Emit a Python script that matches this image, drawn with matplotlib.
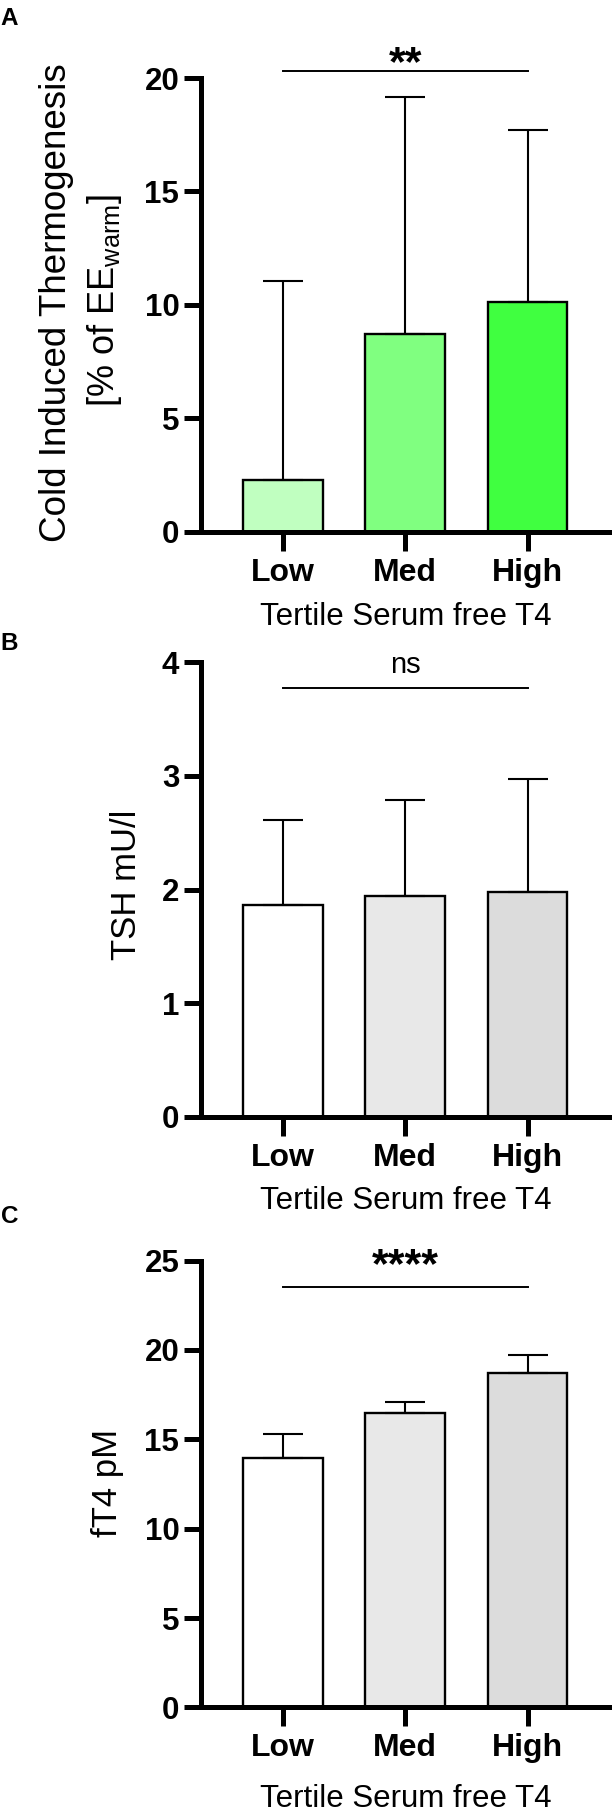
import matplotlib
matplotlib.use('Agg')
import matplotlib.pyplot as plt
import numpy as np

plt.rcParams['font.family'] = 'Liberation Sans'
plt.rcParams['mathtext.fontset'] = 'custom'
plt.rcParams['mathtext.rm'] = 'Liberation Sans'

# Данные
groups = ['Low', 'Med', 'High']

cit_mean = [2.27, 8.73, 10.14]
cit_sd = [8.78, 10.44, 7.57]

tsh_mean = [1.865, 1.94, 1.975]
tsh_sd = [0.75, 0.85, 1.0]

ft4_mean = [13.93, 16.48, 18.73]
ft4_sd = [1.35, 0.59, 0.96]

green_colors = ['#c0ffc0', '#80ff80', '#40ff40']
grey_colors = ['#ffffff', '#e8e8e8', '#dcdcdc']

W, H = 612, 1809


def draw_panel(ax, means, sds, colors, ymax, ystep, sig_y, sig_text, text_y, text_kw):
    x = np.arange(len(groups))
    ax.bar(x, means, width=0.65, color=colors, edgecolor='black', linewidth=1.7, zorder=2)
    ax.errorbar(x, means, yerr=[np.zeros(len(sds)), sds], fmt='none', ecolor='black',
                elinewidth=1.5, capsize=14.4, capthick=1.5, zorder=3)

    ax.set_xlim(-0.668, 2.69)
    ax.set_ylim(0, ymax)
    ax.set_yticks(np.arange(0, ymax + 0.01, ystep))
    ax.set_xticks(x)
    ax.set_xticklabels(groups, fontsize=23, fontweight='bold')
    for lab in ax.get_yticklabels():
        lab.set_fontsize(22.5)
        lab.set_fontweight('bold')

    ax.spines['top'].set_visible(False)
    ax.spines['right'].set_visible(False)
    ax.spines['left'].set_linewidth(3.6)
    ax.spines['bottom'].set_linewidth(3.6)
    ax.tick_params(axis='y', length=12.6, width=3.6, pad=3)
    ax.tick_params(axis='x', length=13.7, width=3.6, pad=5)

    # линия значимости
    ax.plot([0, 2], [sig_y, sig_y], color='black', linewidth=1.4, clip_on=False)
    ax.text(1, text_y, sig_text, ha='center', va='baseline', clip_on=False, **text_kw)


fig = plt.figure(figsize=(W / 100, H / 100), dpi=100)

left = 201 / W
width = 1 - left
axA = fig.add_axes([left, 1 - 531.6 / H, width, (531.6 - 78.1) / H])
axB = fig.add_axes([left, 1 - 1117 / H, width, (1117 - 662.2) / H])
axC = fig.add_axes([left, 1 - 1707.4 / H, width, (1707.4 - 1260.5) / H])

draw_panel(axA, cit_mean, cit_sd, green_colors, 20, 5, 20.31, '**', 20.15,
           dict(fontsize=31, fontweight='bold'))
draw_panel(axB, tsh_mean, tsh_sd, grey_colors, 4, 1, 3.77, 'ns', 3.905,
           dict(fontsize=21))
draw_panel(axC, ft4_mean, ft4_sd, grey_colors, 25, 5, 23.53, '****', 24.05,
           dict(fontsize=31, fontweight='bold'))

# подписи осей Y
fig.text(56.7 / W, 1 - 303 / H, 'Cold Induced Thermogenesis', rotation=90,
         ha='center', va='center', fontsize=26.5)
fig.text(104 / W, 1 - 300 / H, '[% of EE$_{\\mathrm{warm}}$]', rotation=90,
         ha='center', va='center', fontsize=26)
fig.text(126.7 / W, 1 - 885 / H, 'TSH mU/l', rotation=90,
         ha='center', va='center', fontsize=25)
fig.text(107.5 / W, 1 - 1483 / H, 'fT4 pM', rotation=90,
         ha='center', va='center', fontsize=25)

# подписи осей X
for base in [625, 1209, 1807]:
    fig.text(406 / W, 1 - base / H, 'Tertile Serum free T4', ha='center',
             va='baseline', fontsize=22.5)

# буквы панелей
for letter, base in [('A', 25.4), ('B', 650.5), ('C', 1223.4)]:
    fig.text(0.5 / W, 1 - base / H, letter, ha='left', va='baseline',
             fontsize=17.5, fontweight='bold')

plt.savefig('out.png', dpi=100)
plt.close()
